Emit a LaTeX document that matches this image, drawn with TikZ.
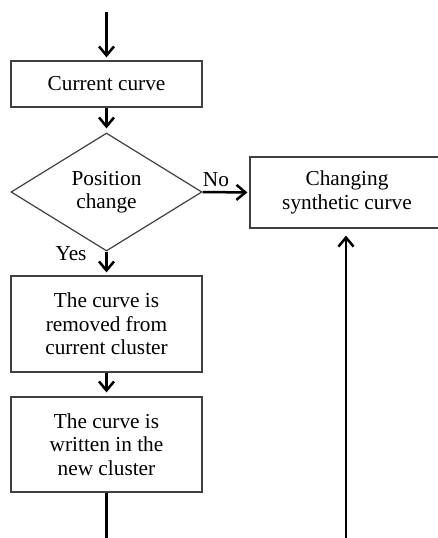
\documentclass[tikz,border=0pt]{standalone}
\usepackage{fontspec}
\setmainfont{Liberation Serif}
\usetikzlibrary{arrows.meta,shapes.geometric}
\begin{document}
\begin{tikzpicture}[x=1pt,y=-1pt,
  box/.style={draw=black!75,line width=1.2pt,rectangle,inner sep=0pt,minimum width=191pt,align=center,font=\fontsize{21.3}{23.5}\selectfont},
  decision/.style={draw=black!75,line width=1.2pt,diamond,inner sep=0pt,minimum width=191pt,minimum height=118pt,aspect=1.62,align=center,font=\fontsize{21.3}{23.5}\selectfont},
  flow/.style={line width=2.5pt,-{Straight Barb[length=9pt,width=15pt,line width=2.5pt]}},
  lbl/.style={font=\fontsize{21.3}{23.5}\selectfont,inner sep=0pt}]
\useasboundingbox (0,0) rectangle (438,538);
\begin{scope}
\clip (0,0) rectangle (438,538);
\node[box,minimum width=194pt,minimum height=71pt] (c2) at (347,192.5) {Changing\\synthetic curve};
\node[box,minimum height=46pt] (c1) at (106.5,84) {Current curve};
\node[decision] (d) at (106.5,192) {Position\\change};
\node[box,minimum height=96pt] (c3) at (106.5,324) {The curve is\\removed from\\current cluster};
\node[box,minimum height=95pt] (c4) at (106.5,444.5) {The curve is\\written in the\\new cluster};
\coordinate (top) at (106.5,12);
\coordinate (bot) at (106.5,538);
\coordinate (src) at (346,538);
\draw[flow,shorten >=3pt] (top) -- (c1.north);
\draw[flow,shorten >=4pt] (c1.south) -- (d.north);
\draw[flow,shorten >=3pt] (d.south) -- (c3.north);
\draw[flow,shorten >=4pt] (c3.south) -- (c4.north);
\draw[flow,shorten >=2pt] (d.east) -- (c2.west);
\draw[flow,shorten >=7pt] (src) -- (src |- c2.south);
\draw[line width=2.5pt] (c4.south) -- (bot);
\node[lbl] (no) at (216,180) {No};
\node[lbl] (yes) at (71,254) {Yes};
\end{scope}
\end{tikzpicture}
\end{document}
